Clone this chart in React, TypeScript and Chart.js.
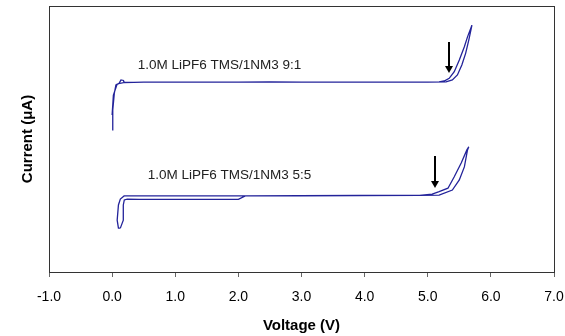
import React, { useEffect, useRef } from "react";
import { Chart, registerables } from "chart.js";

Chart.register(...registerables);

// Upper trace: 1.0M LiPF6 TMS/1NM3 9:1
const topVoltage = [0.0, 0.01, 0.035, 0.06, 0.11, 0.14, 0.18, 0.19, 0.5, 1.0, 1.5, 2.0, 2.5, 3.0, 3.5, 4.0, 4.5, 5.0, 5.29, 5.39, 5.47, 5.54, 5.6, 5.65, 5.7, 5.63, 5.58, 5.5, 5.42, 5.34, 5.26, 5.18, 4.5, 3.5, 2.5, 1.5, 0.5, 0.2, 0.08, 0.02, 0.0];
const topCurrent = [53.4, 60.9, 67.2, 70.3, 70.9, 72.2, 72.0, 71.2, 71.4, 71.4, 71.4, 71.4, 71.5, 71.4, 71.4, 71.4, 71.4, 71.4, 71.5, 72.2, 74.1, 77.8, 82.2, 87.2, 92.8, 88.4, 84.7, 79.7, 75.3, 72.8, 71.8, 71.5, 71.4, 71.4, 71.4, 71.4, 71.4, 71.3, 70.7, 66.5, 59.0];

// Lower trace: 1.0M LiPF6 TMS/1NM3 5:5
const bottomVoltage = [0.13, 0.177, 0.177, 0.193, 0.24, 0.43, 0.75, 1.38, 2.0, 2.11, 2.97, 3.92, 4.87, 5.18, 5.39, 5.5, 5.58, 5.63, 5.65, 5.62, 5.53, 5.42, 5.32, 5.18, 5.07, 4.87, 2.97, 0.75, 0.27, 0.19, 0.13, 0.1, 0.08, 0.1, 0.13];
const bottomCurrent = [16.5, 19.5, 25.2, 27.1, 27.4, 27.3, 27.3, 27.3, 27.3, 28.6, 28.7, 28.8, 28.8, 28.9, 30.8, 34.6, 39.5, 45.9, 47.1, 45.9, 41.0, 35.8, 31.5, 30.2, 29.3, 28.8, 28.6, 28.6, 28.6, 28.6, 27.4, 25.2, 19.5, 16.5, 16.5];

// Annotations
const labelTexts = ["1.0M LiPF6 TMS/1NM3 9:1", "1.0M LiPF6 TMS/1NM3 5:5"];
const labelVoltage = [1.7, 1.86];
const labelCurrent = [77.8, 36.5];
const arrowVoltage = [5.33, 5.12];
const arrowFrom = [86.5, 43.6];
const arrowTo = [74.8, 31.6];

const xTicks = [-1, 0, 1, 2, 3, 4, 5, 6, 7];

const annotPlugin = {
  id: "annot",
  afterDatasetsDraw(chart: any) {
    const ctx = chart.ctx;
    const xs = chart.scales.x;
    const ys = chart.scales.y;
    const a = chart.chartArea;
    ctx.save();
    // frame
    ctx.strokeStyle = "#333";
    ctx.lineWidth = 1;
    ctx.strokeRect(Math.round(a.left) + 0.5, Math.round(a.top) + 0.5, Math.round(a.right - a.left), Math.round(a.bottom - a.top));
    // labels
    ctx.fillStyle = "#222";
    ctx.font = '13.5px "Liberation Sans", Arial, sans-serif';
    ctx.textAlign = "center";
    ctx.textBaseline = "middle";
    labelTexts.forEach((t, i) => {
      ctx.fillText(t, xs.getPixelForValue(labelVoltage[i]), ys.getPixelForValue(labelCurrent[i]));
    });
    // arrows
    ctx.strokeStyle = "#000";
    ctx.fillStyle = "#000";
    ctx.lineWidth = 2;
    arrowVoltage.forEach((v, i) => {
      const x = Math.round(xs.getPixelForValue(v));
      const y1 = ys.getPixelForValue(arrowFrom[i]);
      const y2 = ys.getPixelForValue(arrowTo[i]);
      ctx.beginPath();
      ctx.moveTo(x, y1);
      ctx.lineTo(x, y2 - 6);
      ctx.stroke();
      ctx.beginPath();
      ctx.moveTo(x - 4, y2 - 7);
      ctx.lineTo(x + 4, y2 - 7);
      ctx.lineTo(x, y2);
      ctx.closePath();
      ctx.fill();
    });
    ctx.restore();
  },
};

export default function App() {
  const ref = useRef<HTMLCanvasElement | null>(null);
  useEffect(() => {
    document.body.style.margin = "0";
    const lineColor = "#23239a";
    const chart = new Chart(ref.current as HTMLCanvasElement, {
      type: "scatter",
      data: {
        datasets: [
          {
            data: topVoltage.map((v, i) => ({ x: v, y: topCurrent[i] })),
            showLine: true,
            borderColor: lineColor,
            borderWidth: 1.3,
            pointRadius: 0,
            tension: 0,
          },
          {
            data: bottomVoltage.map((v, i) => ({ x: v, y: bottomCurrent[i] })),
            showLine: true,
            borderColor: lineColor,
            borderWidth: 1.3,
            pointRadius: 0,
            tension: 0,
          },
        ],
      },
      options: {
        animation: false,
        responsive: false,
        layout: { padding: { top: 6, right: 11, left: 0, bottom: 0 } },
        plugins: { legend: { display: false }, tooltip: { enabled: false } },
        scales: {
          x: {
            type: "linear",
            min: -1,
            max: 7,
            afterBuildTicks: (s: any) => {
              s.ticks = xTicks.map((v) => ({ value: v }));
            },
            afterFit: (s: any) => {
              s.height = 64;
              s.paddingRight = 0;
              s.paddingLeft = 0;
            },
            ticks: {
              color: "#000",
              font: { family: '"Liberation Sans", Arial, sans-serif', size: 14 },
              padding: 12,
              maxRotation: 0,
              callback: (v: any) => Number(v).toFixed(1),
            },
            grid: { drawOnChartArea: false, drawTicks: true, tickLength: 5, color: "#666" },
            border: { display: false },
            title: {
              display: true,
              text: "Voltage (V)",
              color: "#000",
              font: { family: '"Liberation Sans", Arial, sans-serif', size: 15, weight: "bold" },
              padding: { top: 0, bottom: 1 },
            },
          },
          y: {
            type: "linear",
            min: 0,
            max: 100,
            afterFit: (s: any) => {
              s.width = 49;
            },
            ticks: { display: false },
            grid: { display: false },
            border: { display: false },
            title: {
              display: true,
              text: "Current (\u03bcA)",
              color: "#000",
              font: { family: '"Liberation Sans", Arial, sans-serif', size: 15, weight: "bold" },
              padding: { top: 19, bottom: 0 },
            },
          },
        },
      },
      plugins: [annotPlugin],
    } as any);
    return () => chart.destroy();
  }, []);
  return (
    <div style={{ width: 565, height: 336 }}>
      <canvas ref={ref} width={565} height={336} style={{ display: "block" }} />
    </div>
  );
}
